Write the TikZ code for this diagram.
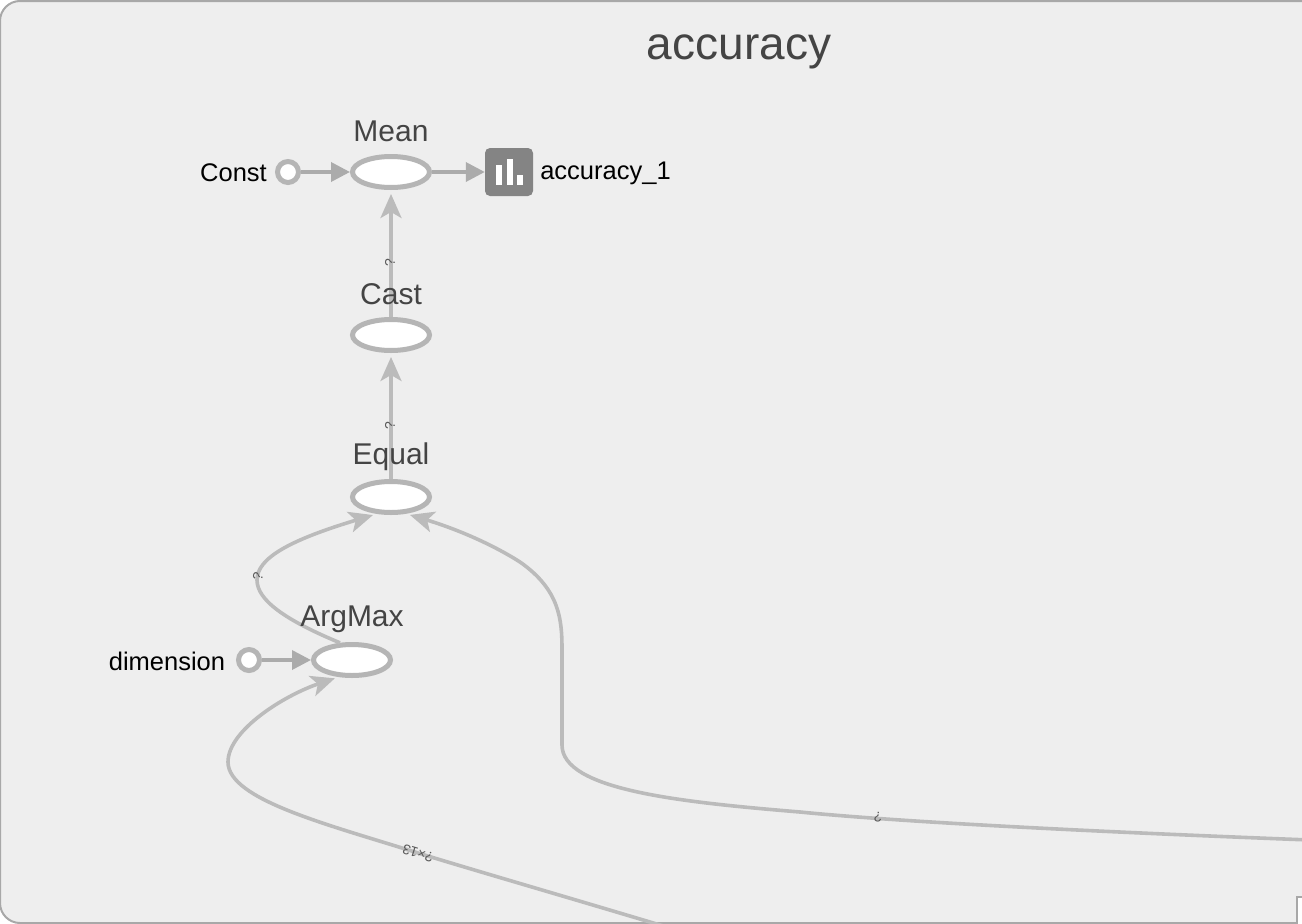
\documentclass[tikz,border=0pt]{standalone}
\usepackage{fontspec}
\setmainfont{Liberation Sans}
\usetikzlibrary{arrows.meta,shapes.geometric}
\definecolor{panelfill}{HTML}{EEEEEE}
\definecolor{panelline}{HTML}{A8A8A8}
\definecolor{edgeline}{HTML}{BBBBBB}
\definecolor{shortline}{HTML}{ABABAB}
\definecolor{nodeline}{HTML}{B5B5B5}
\definecolor{summaryfill}{HTML}{848484}
\definecolor{labeltext}{HTML}{444444}
\definecolor{edgetext}{HTML}{5A5A5A}
\tikzset{
	opnode/.style={ellipse, draw=nodeline, fill=white, line width=5pt, minimum width=77pt, minimum height=31pt, inner sep=0pt},
	constnode/.style={circle, draw=nodeline, fill=white, line width=5pt, minimum size=21pt, inner sep=0pt},
	summarynode/.style={draw=none, fill=summaryfill, rounded corners=5pt, minimum size=48pt, inner sep=0pt},
	edge/.style={draw=edgeline, line width=3.6pt, -{Stealth[length=24pt, width=21pt, inset=6pt]}, shorten >=4pt},
	shortedge/.style={draw=shortline, line width=3.6pt, -{Triangle[length=19pt, width=19pt]}},
	oplabel/.style={text=labeltext, font=\fontsize{30}{34}\selectfont},
	sidelabel/.style={text=black, font=\fontsize{25.5}{30}\selectfont},
	edgelabel/.style={text=edgetext, font=\fontsize{14}{16}\selectfont, inner sep=0pt},
}
\begin{document}
\begin{tikzpicture}[x=1pt, y=-1pt]
	\useasboundingbox (0,0) rectangle (1302,924);
	\clip (0,0) rectangle (1302,924);
	\draw[fill=panelfill, draw=panelline, line width=2pt, rounded corners=20pt] (0,1) rectangle (1340,923);
	\draw[fill=white, draw=panelline, line width=2.5pt] (1297,897) rectangle (1320,930);
	\draw (391,172) node[opnode] (mean) {};
	\draw (391,335) node[opnode] (cast) {};
	\draw (391,497) node[opnode] (equal) {};
	\draw (352,660) node[opnode] (argmax) {};
	\draw (288,172) node[constnode] (const) {};
	\draw (249,660) node[constnode] (dimension) {};
	\draw (509,172) node[summarynode] (summary) {};
	\coordinate (rightend) at (1310,840);
	\coordinate (bottomend) at (670,928);
	\draw[fill=white, draw=none] (496,165) rectangle (501.7,185);
	\draw[fill=white, draw=none] (506.7,159) rectangle (512.7,185);
	\draw[fill=white, draw=none] (517,175) rectangle (522.5,185);
	\draw[shortedge] (const) -- (mean);
	\draw[shortedge] (dimension) -- (argmax);
	\draw[shortedge] (mean) -- (summary);
	\draw[edge] (cast) -- (mean);
	\draw[edge] (equal) -- (cast);
	\draw[edge] (argmax.125) .. controls (285,620) and (257,600) .. (257,580) .. controls (257,558) and (290,540) .. (equal.-130);
	\draw[edge] (rightend) .. controls (1100,832) and (900,822) .. (800,812) .. controls (680,802) and (562,790) .. (562,745) -- (562,650) .. controls (562,620) and (560,590) .. (520,562) .. controls (495,546) and (460,530) .. (equal.-48);
	\draw[edge] (bottomend) .. controls (560,895) and (480,872) .. (418,853) .. controls (330,825) and (228,800) .. (228,762) .. controls (228,730) and (285,695) .. (argmax.-128);
	\draw (391,131) node[oplabel] (meanlabel) {Mean};
	\draw (391,294) node[oplabel] (castlabel) {Cast};
	\draw (391,457) node[oplabel] (equallabel) {Equal};
	\draw (352,619) node[oplabel] (argmaxlabel) {ArgMax};
	\draw (739,52) node[text=labeltext, font=\fontsize{46}{52}\selectfont] (title) {accuracy};
	\draw (233.5,173) node[sidelabel] (constlabel) {Const};
	\draw (167,661) node[sidelabel] (dimensionlabel) {dimension};
	\draw (605.5,173) node[sidelabel] (summarylabel) {accuracy\_1};
	\draw (390,263) node[edgelabel, rotate=90] (meanq) {?};
	\draw (390,426) node[edgelabel, rotate=90] (castq) {?};
	\draw (258,576) node[edgelabel, rotate=75] (equalq) {?};
	\draw (878,817) node[edgelabel, rotate=177] (rightq) {?};
	\draw (418,853) node[edgelabel, rotate=163] (bottomq) {?×13};
\end{tikzpicture}
\end{document}
